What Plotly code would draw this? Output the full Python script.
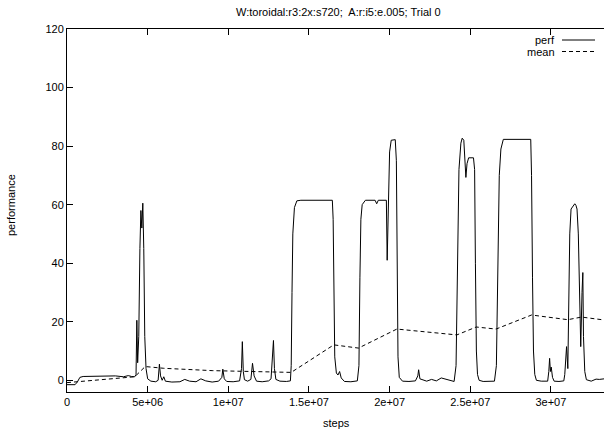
import numpy as np
import plotly.graph_objects as go

# performance curve (x in millions of steps)
perf_x_m = [0, 0.5, 0.65, 0.8, 1.0, 1.5, 2.0, 2.5, 3.0, 3.5, 3.8, 4.0, 4.2,
            4.28, 4.33, 4.38, 4.45, 4.52, 4.58, 4.64, 4.70, 4.76, 4.82, 4.9, 5.0, 5.2, 5.5,
            5.65, 5.73, 5.8, 5.9, 6.0, 6.1, 6.5, 7.0, 7.3, 7.6, 8.0, 8.3, 8.6, 9.0, 9.4,
            9.6, 9.66, 9.75, 9.9, 10.3, 10.7, 10.82, 10.87, 10.93, 11.0, 11.2, 11.4, 11.5,
            11.6, 11.75, 12.1, 12.5, 12.65, 12.75, 12.8, 12.86, 12.95, 13.2, 13.6, 13.85,
            13.9, 13.95, 14.0, 14.1, 14.25, 14.5, 16.45, 16.5, 16.55, 16.6, 16.7, 16.8,
            16.9, 17.0, 17.2, 17.6, 18.0, 18.1, 18.16, 18.22, 18.3, 18.5, 19.1, 19.2,
            19.3, 19.8, 19.85, 19.92, 20.0, 20.1, 20.35, 20.42, 20.47, 20.52, 20.6, 20.8,
            21.2, 21.6, 21.75, 21.8, 21.88, 22.0, 22.3, 22.6, 22.9, 23.2, 23.5, 23.8, 24.0,
            24.12, 24.2, 24.3, 24.42, 24.5, 24.6, 24.68, 24.73, 24.8, 24.9, 25.2, 25.27,
            25.32, 25.38, 25.45, 25.55, 25.8, 26.2, 26.5, 26.62, 26.7, 26.8, 26.9, 27.05,
            28.75, 28.8, 28.86, 28.92, 29.0, 29.1, 29.4, 29.8, 29.87, 29.92, 29.97, 30.02,
            30.1, 30.2, 30.5, 30.8, 30.86, 30.92, 30.97, 31.05, 31.1, 31.17, 31.25, 31.4,
            31.48, 31.55, 31.62, 31.7, 31.77, 31.85, 31.93, 31.98, 32.02, 32.1, 32.2, 32.5,
            32.8, 33.0, 33.3]
perf_y = [-1.5, -1.5, -0.5, 1.0, 1.3, 1.4, 1.4, 1.5, 1.5, 1.2, 1.6, 1.3, 1.2,
          2, 20.5, 6, 15, 45, 58, 52, 60.5, 45, 15, 4, 0.5, -0.3, -0.5,
          0, 5.5, 1.5, 0, 1.2, -0.3, -0.6, -0.5, 0.3, -0.3, -0.5, 0.5, -0.2, -0.6, -0.3,
          1.0, 3.8, 0.5, -0.4, -0.5, -0.2, 4, 13.2, 3, 0.2, -0.3, 0.3, 5.8,
          1.5, -0.3, -0.5, -0.2, 0.5, 8, 13.6, 4, 0.3, -0.3, -0.4, -0.2,
          5, 30, 50, 59, 61.3, 61.5, 61.5, 55, 25, 8, 2.5, 1.8,
          3.0, 0.8, -0.4, -0.5, -0.2, 5, 35, 55, 60, 61.5, 61.5, 60.3,
          61.5, 61.5, 41, 61, 78, 82, 82.2, 75, 30, 8, 1, -0.3,
          -0.4, -0.2, 1.5, 3.6, 0.5, 0.3, -0.3, 0.3, -0.2, 0.8, 0.3, -0.3, -0.4,
          5, 45, 72, 81, 82.7, 82, 75, 69.3, 74, 76, 76, 72,
          40, 10, 2, 0, -0.4, -0.4, -0.3, 5, 40, 70, 79, 82.3,
          82.3, 70, 35, 10, 2, 0, -0.3, -0.3, 3, 7.5, 3, 4.5,
          1, -0.3, -0.4, -0.2, 2, 8.5, 11.5, 4, 25, 50, 58.5, 60,
          60.3, 59.8, 58.5, 50, 25, 11.5, 30, 36.8, 15, 3, 0.2, -0.3,
          0.4, 0.3, 0.5]

# running mean (x in millions of steps)
mean_x_m = [0, 4.2, 4.85, 6.0, 9.0, 13.9, 16.54, 18.07, 20.45, 24.17, 25.37, 26.6,
            28.8, 31.05, 31.9, 33.3]
mean_y = [-0.8, 1.2, 4.7, 4.1, 3.3, 2.7, 12.1, 11.0, 17.5, 15.5, 18.2, 17.5,
          22.3, 20.7, 21.6, 20.6]

x_tick_vals = [0, 5e6, 1e7, 1.5e7, 2e7, 2.5e7, 3e7]
x_tick_text = ["0", "5e+06", "1e+07", "1.5e+07", "2e+07", "2.5e+07", "3e+07"]
y_tick_vals = [0, 20, 40, 60, 80, 100, 120]

FONT = "Liberation Sans, Arial, Helvetica, sans-serif"

fig = go.Figure()
fig.add_trace(go.Scatter(x=np.array(perf_x_m) * 1e6, y=perf_y, mode="lines",
                         line=dict(color="black", width=1), name="perf",
                         showlegend=False))
fig.add_trace(go.Scatter(x=np.array(mean_x_m) * 1e6, y=mean_y, mode="lines",
                         line=dict(color="black", width=1, dash="4px,3px"),
                         name="mean", showlegend=False))

L, T, B = 67, 29, 41
W, H = 604, 433
pw, ph = W - L, H - T - B


def px(xp):
    return (xp - L) / pw


def py(yp):
    return (H - B - yp) / ph


annotations = [
    dict(text="W:toroidal:r3:2x:s720;  A:r:i5:e.005; Trial 0", xref="paper", yref="paper",
         x=px(338), y=py(12), xanchor="center", yanchor="middle", showarrow=False,
         font=dict(size=11, family=FONT, color="black")),
    dict(text="steps", xref="paper", yref="paper", x=px(336), y=py(423),
         xanchor="center", yanchor="middle", showarrow=False,
         font=dict(size=11, family=FONT, color="black")),
    dict(text="performance", xref="paper", yref="paper", x=px(11), y=py(205),
         xanchor="center", yanchor="middle", showarrow=False, textangle=-90,
         font=dict(size=11, family=FONT, color="black")),
    dict(text="perf", xref="paper", yref="paper", x=px(557), y=py(40),
         xanchor="right", yanchor="middle", showarrow=False,
         font=dict(size=11, family=FONT, color="black")),
    dict(text="mean", xref="paper", yref="paper", x=px(557), y=py(51.5),
         xanchor="right", yanchor="middle", showarrow=False,
         font=dict(size=11, family=FONT, color="black")),
]
shapes = [
    dict(type="line", xref="paper", yref="paper", x0=px(562), x1=px(595),
         y0=py(40), y1=py(40), line=dict(color="black", width=1)),
    dict(type="line", xref="paper", yref="paper", x0=px(562), x1=px(595),
         y0=py(51.5), y1=py(51.5), line=dict(color="black", width=1, dash="4px,3px")),
]

fig.update_layout(
    width=W, height=H,
    margin=dict(l=L, r=0, t=T, b=B, pad=0),
    paper_bgcolor="white", plot_bgcolor="white",
    font=dict(family=FONT, size=11, color="black"),
    annotations=annotations, shapes=shapes,
    showlegend=False,
    xaxis=dict(range=[0, pw / 16.13 * 1e6], tickvals=x_tick_vals, ticktext=x_tick_text,
               showgrid=False, zeroline=False, showline=True, linecolor="black",
               linewidth=1, mirror="allticks", ticks="inside", ticklen=6,
               tickcolor="black", tickfont=dict(size=11, family=FONT)),
    yaxis=dict(range=[-4, 120], tickvals=y_tick_vals, showgrid=False, zeroline=False,
               showline=True, linecolor="black", linewidth=1, mirror=False,
               ticks="inside", ticklen=6, tickcolor="black",
               tickfont=dict(size=11, family=FONT)),
)

fig.write_html("out.html")
